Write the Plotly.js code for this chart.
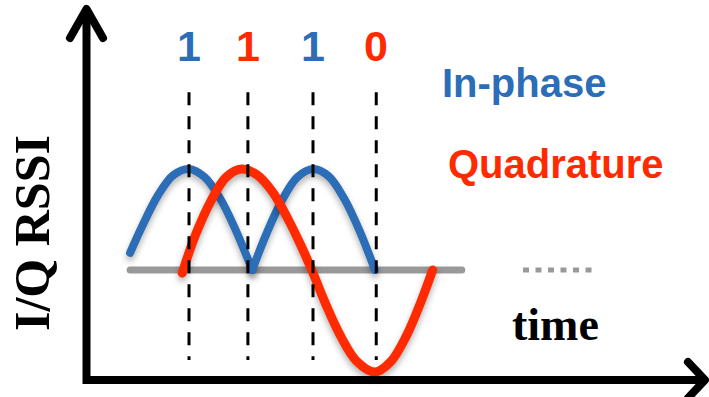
<!DOCTYPE html>
<html>
<head>
<meta charset="utf-8">
<script src="https://cdn.plot.ly/plotly-3.0.1.min.js"></script>
<style>html,body{margin:0;padding:0;background:#fff;}#chart{width:709px;height:397px;}</style>
</head>
<body>
<div id="chart"></div>
<script>
// ---- data (time in bit periods, amplitude normalised) ----
const inPhaseT1 = [0.05, 0.25, 0.5, 0.75, 1.0, 1.25, 1.5, 1.75, 2.02];
const inPhaseV1 = [0.17, 0.44, 0.74, 0.94, 1.0, 0.92, 0.71, 0.40, 0.0];
const inPhaseT2 = [2.02, 2.25, 2.5, 2.75, 3.0, 3.25, 3.5, 3.75, 4.0];
const inPhaseV2 = [0.0, 0.36, 0.69, 0.92, 1.0, 0.93, 0.71, 0.39, 0.0];
const quadT = [0.89, 1.1, 1.35, 1.6, 1.85, 2.1, 2.35, 2.6, 2.8, 2.98, 3.2, 3.45, 3.7, 4.0, 4.25, 4.5, 4.75, 4.93];
const quadV = [-0.03, 0.34, 0.68, 0.92, 1.0, 0.94, 0.77, 0.50, 0.25, 0.0, -0.33, -0.66, -0.90, -1.01, -0.91, -0.66, -0.30, 0.0];
const baselineT = [0.05, 5.4];
const baselineV = [0, 0];
const bitBoundaries = [1.0, 1.95, 3.0, 4.02];
const bitLabels = ["1", "1", "1", "0"];
const bitColors = ["#2c6db8", "#ff2a00", "#2c6db8", "#ff2a00"];

const BLUE = "#2c6db8", RED = "#ff2a00", GRAY = "#999999";
const W = 709, H = 397;
const px = x => x / W, py = y => 1 - y / H;
const P = (x, y) => px(x) + "," + py(y);

const traces = [
  {x: baselineT, y: baselineV, mode: "lines", line: {color: GRAY, width: 7}, hoverinfo: "skip"},
  {x: inPhaseT1, y: inPhaseV1, mode: "lines", line: {color: BLUE, width: 8, shape: "spline"}, hoverinfo: "skip"},
  {x: inPhaseT2, y: inPhaseV2, mode: "lines", line: {color: BLUE, width: 8, shape: "spline"}, hoverinfo: "skip"},
  {x: quadT, y: quadV, mode: "lines", line: {color: RED, width: 9, shape: "spline"}, hoverinfo: "skip"}
];

const shapes = [];
bitBoundaries.forEach(t => shapes.push({
  type: "line", xref: "x", yref: "y", x0: t, x1: t, y0: 1.76, y1: -0.89,
  line: {color: "#000", width: 3, dash: "13px,11px"}, layer: "above"
}));
// axes
shapes.push({type: "path", xref: "paper", yref: "paper",
  path: "M" + P(86.5, 9) + " L" + P(86.5, 380) + " L" + P(702, 380),
  line: {color: "#000", width: 8}, layer: "above"});
shapes.push({type: "path", xref: "paper", yref: "paper",
  path: "M" + P(70, 38) + " L" + P(86.5, 9) + " L" + P(103, 38),
  line: {color: "#000", width: 8}, layer: "above"});
shapes.push({type: "path", xref: "paper", yref: "paper",
  path: "M" + P(688, 362) + " L" + P(705, 380) + " L" + P(688, 398),
  line: {color: "#000", width: 8}, layer: "above"});
// ellipsis
shapes.push({type: "line", xref: "paper", yref: "paper", x0: px(523), x1: px(598), y0: py(270), y1: py(270),
  line: {color: GRAY, width: 5, dash: "6px,6.5px"}, layer: "above"});

const SANS = "'Liberation Sans', Arial, sans-serif";
const SERIF = "'Liberation Serif', 'Times New Roman', serif";

const annotations = [];
bitBoundaries.forEach((t, i) => annotations.push({
  x: t, xref: "x", y: py(46), yref: "paper", text: bitLabels[i], showarrow: false,
  xanchor: "center", yanchor: "middle", font: {family: SANS, size: 43, color: bitColors[i], weight: "bold"}
}));
annotations.push({x: px(524), y: py(83), xref: "paper", yref: "paper", text: "In-phase", showarrow: false,
  xanchor: "center", yanchor: "middle", font: {family: SANS, size: 40, color: BLUE, weight: "bold"}});
annotations.push({x: px(556), y: py(164), xref: "paper", yref: "paper", text: "Quadrature", showarrow: false,
  xanchor: "center", yanchor: "middle", font: {family: SANS, size: 40, color: RED, weight: "bold"}});
annotations.push({x: px(555), y: py(324), xref: "paper", yref: "paper", text: "time", showarrow: false,
  xanchor: "center", yanchor: "middle", font: {family: SERIF, size: 46, color: "#000", weight: "bold"}});
annotations.push({x: px(32), y: py(233), xref: "paper", yref: "paper", text: "I/Q RSSI", showarrow: false,
  textangle: -90, xanchor: "center", yanchor: "middle", font: {family: SERIF, size: 50, color: "#000", weight: "bold"}});

const layout = {
  width: W, height: H, margin: {l: 0, r: 0, t: 0, b: 0},
  paper_bgcolor: "#ffffff", plot_bgcolor: "#ffffff", showlegend: false,
  xaxis: {range: [-127 / 62, 582 / 62], visible: false, fixedrange: true},
  yaxis: {range: [-127 / 101, 270 / 101], visible: false, fixedrange: true},
  shapes: shapes, annotations: annotations
};

Plotly.newPlot("chart", traces, layout, {staticPlot: true}).then(() => {
  const lines = document.querySelectorAll(".scatterlayer .js-line");
  lines.forEach((p, i) => {
    p.style.strokeLinecap = "round"; p.style.strokeLinejoin = "round";
    if (i > 0) p.style.filter = "drop-shadow(0px 4px 3px rgba(0,0,0,0.3))";
  });
  const sp = document.querySelectorAll(".shapelayer path");
  sp.forEach((p, i) => {
    if (i >= bitBoundaries.length + 1 && i <= bitBoundaries.length + 2) {
      p.style.strokeLinecap = "round"; p.style.strokeLinejoin = "round";
    }
  });
});
</script>
</body>
</html>
